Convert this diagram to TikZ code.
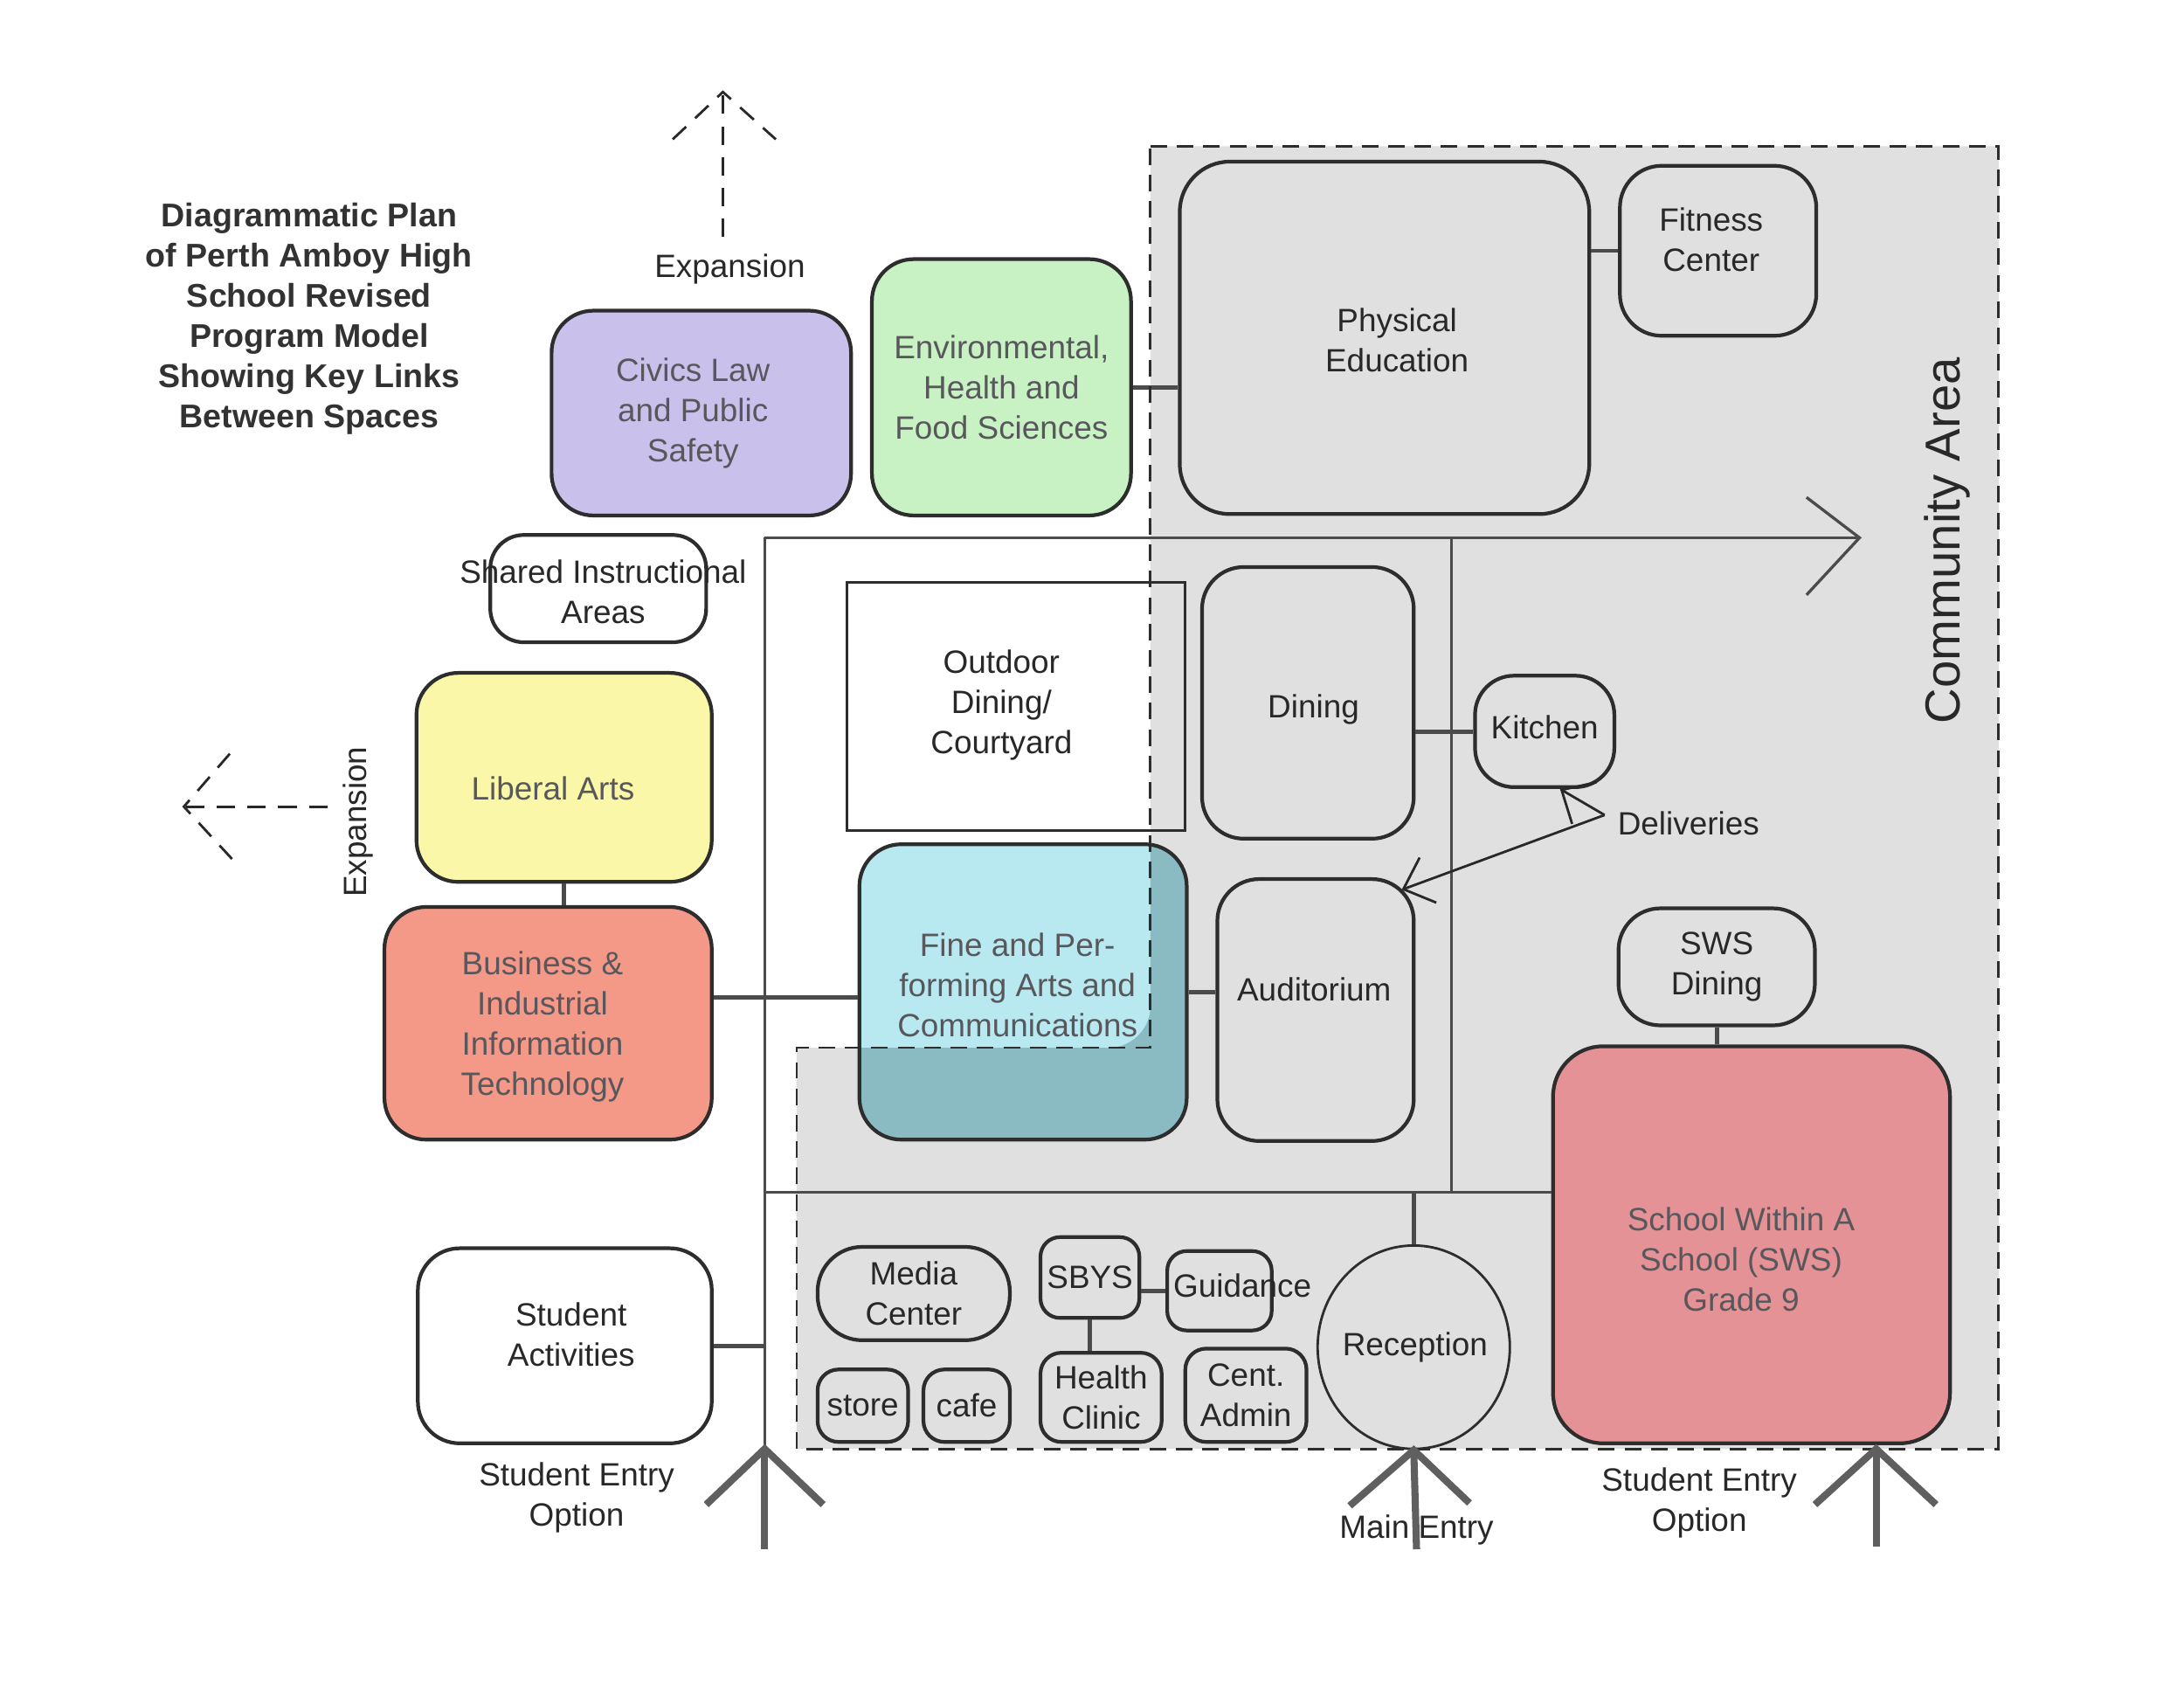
\documentclass[tikz,border=0pt]{standalone}
\usepackage{fontspec}
\setmainfont{Liberation Sans}
\usetikzlibrary{arrows.meta,shapes.geometric}
\newcommand\myu{0.015944cm}
\definecolor{txt}{RGB}{40,40,40}
\definecolor{gtxt}{RGB}{88,88,92}
\definecolor{edge}{RGB}{45,45,45}
\definecolor{corr}{RGB}{75,75,75}
\definecolor{entr}{RGB}{95,95,95}
\definecolor{commfill}{RGB}{224,224,224}
\definecolor{civ}{RGB}{202,192,236}
\definecolor{envc}{RGB}{200,242,196}
\definecolor{libc}{RGB}{251,247,168}
\definecolor{busc}{RGB}{244,152,136}
\definecolor{finec}{RGB}{184,232,240}
\definecolor{finedark}{RGB}{138,186,194}
\definecolor{swsc}{RGB}{228,146,150}
\begin{document}
\begin{tikzpicture}[x=0.015944cm,y=-0.015944cm,
  every node/.style={font=\fontsize{10.5}{13.1}\selectfont, text=txt, inner sep=0pt, align=center},
  box/.style n args={3}{draw=edge, line width=1.2pt, rounded corners=#3*\myu,
     minimum width=#1*\myu, minimum height=#2*\myu},
  corridor/.style={draw=corr, line width=0.95pt},
  link/.style={draw=corr, line width=1.4pt},
  entry/.style={draw=entr, line width=2.3pt},
  expdash/.style={draw=txt, line width=0.8pt, dash pattern=on 6pt off 4pt},
  commborder/.style={draw=edge, line width=0.85pt, dash pattern=on 5.4pt off 3.2pt},
  delivarrow/.style={draw=txt, line width=0.8pt, -{Straight Barb[length=3mm,width=5.5mm]}}
]
\useasboundingbox (0,0) rectangle (1568,1222);
\fill[white] (0,0) rectangle (1568,1222);

% community area
\coordinate (ca1) at (826,105);
\coordinate (ca2) at (1435,105);
\coordinate (ca3) at (1435,1040);
\coordinate (ca4) at (572,1040);
\coordinate (ca5) at (572,752);
\coordinate (ca6) at (826,752);
\fill[commfill] (ca1) -- (ca2) -- (ca3) -- (ca4) -- (ca5) -- (ca6) -- cycle;

% title
\node[font=\bfseries\fontsize{10.7}{13.1}\selectfont, text={rgb,255:red,50;green,50;blue,50}] (title) at (222,229)
  {Diagrammatic Plan\\of Perth Amboy High\\School Revised\\Program Model\\Showing Key Links\\Between Spaces};

% corridors
\coordinate (c1) at (549,386);
\coordinate (c2) at (1335,386);
\coordinate (c3) at (549,1040);
\coordinate (c4) at (549,1112);
\coordinate (c5) at (1042,386);
\coordinate (c6) at (1042,856);
\coordinate (c7) at (549,856);
\coordinate (bf) at (549,716);

% boxes
\node[box={215}{147}{30}, fill=civ] (civics) at (503.5,296.5) {};
\node[text=gtxt] (civics-t) at ([shift={(-6,0)}]civics.center) {Civics Law\\and Public\\Safety};
\node[box={186}{184}{30}, fill=envc, text=gtxt] (env) at (719,278) {Environmental,\\Health and\\Food Sciences};
\node[box={294}{253}{36}] (pe) at (994,242.5) {};
\node (pe-t) at ([shift={(9,1.5)}]pe.center) {Physical\\Education};
\node[box={141}{122}{30}] (fit) at (1233.5,180) {};
\node (fit-t) at ([shift={(-5,-8)}]fit.center) {Fitness\\Center};
\node[box={155}{77}{24}] (shared) at (429.5,422.5) {};
\node (shared-t) at (433,425) {Shared Instructional\\Areas};
\node[draw=edge, line width=0.8pt, minimum width=243*\myu, minimum height=178*\myu] (outdoor) at (729.5,507) {};
\node (outdoor-t) at (719,506) {Outdoor\\Dining/\\Courtyard};
\node[box={152}{195}{30}] (dining) at (939,504.5) {};
\node (dining-t) at ([shift={(4,5)}]dining.center) {Dining};
\node[box={100}{80}{28}] (kitchen) at (1109,525) {};
\node (kitchen-t) at ([shift={(0,-3)}]kitchen.center) {Kitchen};
\node[box={141}{188}{30}] (aud) at (944.5,725) {};
\node (aud-t) at ([shift={(-1,-15)}]aud.center) {Auditorium};
\node[box={235}{212}{30}, fill=finec,
  path picture={\fill[finedark] (ca1) -- (ca2) -- (ca3) -- (ca4) -- (ca5) -- (ca6) -- cycle;}]
  (fine) at (734.5,712) {};
\node[text=gtxt] (fine-t) at ([shift={(-4,-5)}]fine.center) {Fine and Per-\\forming Arts and\\Communications};
\node[box={212}{150}{30}, fill=libc] (liberal) at (405,558) {};
\node[text=gtxt] (liberal-t) at ([shift={(-8,8)}]liberal.center) {Liberal Arts};
\node[box={235}{167}{30}, fill=busc] (business) at (393.5,734.5) {};
\node[text=gtxt] (business-t) at ([shift={(-4,2.5)}]business.center) {Business \&\\Industrial\\Information\\Technology};
\node[box={211}{140}{30}] (student) at (405.5,966) {};
\node (student-t) at ([shift={(4.5,-8)}]student.center) {Student\\Activities};
\node[box={138}{67}{32}] (media) at (656,928.5) {Media\\Center};
\node[box={65}{52}{15}] (store) at (619.5,1009) {store};
\node[box={62}{52}{15}] (cafe) at (694,1009) {cafe};
\node[box={71}{58}{14}] (sbys) at (782.5,917) {SBYS};
\node[box={75}{57}{14}] (guid) at (875.5,926.5) {};
\node (guid-t) at (892,923) {Guidance};
\node[box={87}{64}{15}] (health) at (790.5,1003) {Health\\Clinic};
\node[box={87}{67}{15}] (admin) at (894.5,1001.5) {Cent.\\Admin};
\node[ellipse, draw=edge, line width=0.8pt, minimum width=138*\myu, minimum height=146*\myu] (reception) at (1015,967) {};
\node (reception-t) at (1016,967) {Reception};
\node[box={141}{84}{30}] (swsd) at (1232.5,694) {SWS\\Dining};
\node[box={285}{285}{36}, fill=swsc] (sws) at (1257.5,893.5) {};
\node[text=gtxt] (sws-t) at ([shift={(-7.5,10.5)}]sws.center) {School Within A\\School (SWS)\\Grade 9};

% corridor lines
\draw[corridor] (c1) -- (c2);
\draw[corridor] (c2) ++(-38,-29) -- (c2) -- ++(-38,41);
\draw[corridor] (c1) -- (c3);
\draw[corridor] (c5) -- (c6);
\draw[corridor] (c7) -- (c7 -| sws.west);

% links
\draw[link] (env.east) -- (env.east -| pe.west);
\draw[link] (fit.west) -- (fit.west -| pe.east);
\draw[link] (kitchen.west) -- (kitchen.west -| dining.east);
\draw[link] (liberal.south) -- (liberal.south |- business.north);
\draw[link] (business.east |- bf) -- (fine.west |- bf);
\draw[link] (fine.east) -- (fine.east -| aud.west);
\draw[link] (student.east) -- (student.east -| c1);
\draw[link] (guid.west) -- (guid.west -| sbys.east);
\draw[link] (sbys.south) -- (sbys.south |- health.north);
\draw[link] (reception.north) -- (reception.north |- c7);
\draw[link] (swsd.south) -- (swsd.south |- sws.north);

% community border
\draw[commborder] (ca1) -- (ca2) -- (ca3) -- (ca4) -- (ca5) -- (ca6) -- cycle;
\node[rotate=90, font=\fontsize{16}{19}\selectfont] (comm) at (1398,388) {Community Area};

% deliveries
\node[anchor=west] (deliv) at (1161,591) {Deliveries};
\coordinate (dv) at (1152,585);
\draw[delivarrow] (dv) -- ([xshift=11*\myu]kitchen.south);
\draw[delivarrow] (dv) -- ([xshift=-10*\myu,yshift=-9*\myu]aud.north east);

% expansion arrows
\coordinate (xt) at (519,66);
\coordinate (xtb) at (519,170);
\draw[expdash] (xtb) -- (xt);
\draw[expdash] (xt) ++(-36,34) -- (xt) -- ++(38,34);
\node (exptop) at (524,193) {Expansion};
\coordinate (xl) at (132,579);
\coordinate (xlb) at (235,579);
\draw[expdash] (xlb) -- (xl);
\draw[expdash] (xl) ++(33,-38) -- (xl) -- ++(35,38);
\node[rotate=90] (expleft) at (257,590) {Expansion};

% entries
\node (seo1) at (414,1075) {Student Entry\\Option};
\node (seo2) at (1220,1079) {Student Entry\\Option};
\node (mainentry) at (1017,1098) {Main Entry};
\draw[entry] (c3) -- (c4);
\draw[entry] (c3) ++(-42,40) -- (c3) -- ++(42,40);
\coordinate (me) at (1017,1112);
\draw[entry] (reception.south) -- (me);
\draw[entry] (reception.south) ++(-46,40) -- (reception.south) -- ++(40,38);
\coordinate (e3) at (1347,1040);
\coordinate (e3b) at (1347,1110);
\draw[entry] (e3) -- (e3b);
\draw[entry] (e3) ++(-44,40) -- (e3) -- ++(43,40);
\end{tikzpicture}
\end{document}
